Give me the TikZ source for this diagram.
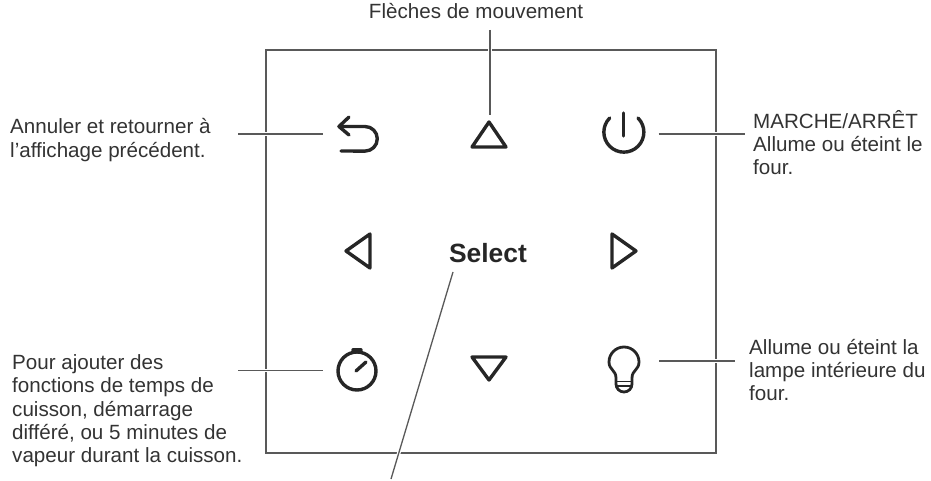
\documentclass[tikz,border=0pt]{standalone}
\usepackage{fontspec}
\setmainfont{Liberation Sans}
\tikzset{
	note/.style={align=left,anchor=north west,inner sep=0pt,text=black!80,font=\fontsize{20.6}{23.3}\selectfont},
	leader/.style={draw=black!65,line width=1.3pt,preaction={draw=white,line width=3.6pt}},
	icon/.style={draw=black!85,line width=3.4pt,line join=round,line cap=round},
	iconbox/.style={minimum size=70pt,inner sep=0pt}
}
\begin{document}
\begin{tikzpicture}[x=1pt,y=-1pt]
	\pgfmathsetmacro{\ttop}{122}
	\pgfmathsetmacro{\tbot}{380}
	\useasboundingbox (0,0) rectangle (931,481);
	\draw[draw=black!65,line width=1.7pt] (266,50) rectangle (716,453);
	% texts
	\node[note,anchor=north,align=center] (arrows) at (476,3) {Flèches de mouvement};
	\node[note] (cancel) at (10,118.5) {Annuler et retourner à\\l’affichage précédent.};
	\node[note] (onoff) at (753,110) {MARCHE/ARRÊT\\Allume ou éteint le\\four.};
	\node[note] (lamp) at (749,339) {Allume ou éteint la\\lampe intérieure du\\four.};
	\node[note] (timing) at (12,354.5) {Pour ajouter des\\fonctions de temps de\\cuisson, démarrage\\différé, ou 5 minutes de\\vapeur durant la cuisson.};
	\node[text=black!85,inner sep=0pt,font=\fontsize{26.4}{26}\selectfont\bfseries] (select) at (488,253) {Select};
	% buttons
	\node[iconbox] (back) at (358,134) {};
	\node[iconbox] (power) at (623.5,134) {};
	\node[iconbox] (timer) at (358,370.5) {};
	\node[iconbox] (bulb) at (624,361) {};
	\draw[icon] (349,117) -- (339,126.5) -- (349,135);
	\draw[icon] (339,126.5) -- (365,126.5) arc (-90:90:12.3) -- (341,151);
	\draw[icon] (489,\ttop) -- (472,147) -- (506,147) -- cycle;
	\draw[icon] (346,251) -- (370,234) -- (370,268) -- cycle;
	\draw[icon] (636,251) -- (612,234) -- (612,268) -- cycle;
	\draw[icon] (489,\tbot) -- (472,357) -- (506,357) -- cycle;
	\draw[icon] (638,118) arc (-45:225:20);
	\draw[icon] (623.5,113) -- (623.5,136);
	\draw[icon] (357,371) circle (19);
	\draw[icon] (356,371) -- (366,362);
	\draw[icon] (353,350) -- (361,350);
	\draw[icon,line width=2.8pt] (616,378) .. controls (616,370) and (609,370) .. (609,362) arc (180:360:15) .. controls (639,370) and (632,370) .. (632,378) -- (632,384) arc (0:180:8) -- cycle;
	\draw[icon,line width=1.5pt] (616,381.5) -- (632,381.5) (617,386) -- (631,386);
	% leaders
	\coordinate (backend) at (238,134);
	\coordinate (powerend) at (745,134);
	\coordinate (timerend) at (238,370.5);
	\coordinate (bulbend) at (735,361);
	\coordinate (uptop) at (490,30);
	\coordinate (upend) at (490,115);
	\coordinate (selecttop) at (453,272);
	\coordinate (selectend) at (391,479);
	\draw[leader] (backend) -- (back.west);
	\draw[leader] (power.east) -- (powerend);
	\draw[leader] (timerend) -- (timer.west);
	\draw[leader] (bulb.east) -- (bulbend);
	\draw[leader] (uptop) -- (upend);
	\draw[leader] (selecttop) -- (selectend);
\end{tikzpicture}
\end{document}
